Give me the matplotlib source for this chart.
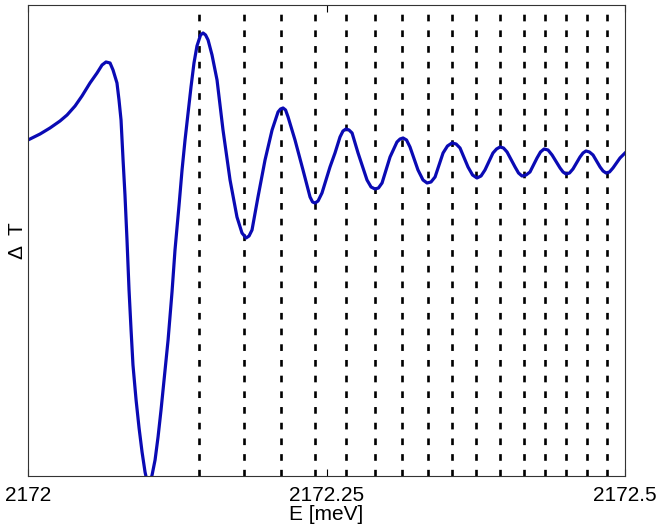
import matplotlib
matplotlib.use("Agg")
from matplotlib import pyplot as plt

plt.rcParams['font.family'] = ['Liberation Sans', 'DejaVu Sans']
plt.rcParams['lines.scale_dashes'] = False

# photon energy offset from 2172 meV
E_offset = [0.0000, 0.0101, 0.0184, 0.0268, 0.0327, 0.0394, 0.0452, 0.0519, 0.0578, 0.0620,
            0.0653, 0.0687, 0.0712, 0.0745, 0.0762, 0.0779, 0.0796, 0.0812, 0.0829, 0.0846,
            0.0863, 0.0879, 0.0905, 0.0930, 0.0955, 0.0980, 0.1009, 0.1039, 0.1064, 0.1089,
            0.1114, 0.1139, 0.1173, 0.1206, 0.1231, 0.1265, 0.1290, 0.1315, 0.1340, 0.1365,
            0.1390, 0.1415, 0.1445, 0.1466, 0.1487, 0.1508, 0.1541, 0.1583, 0.1633, 0.1692,
            0.1750, 0.1792, 0.1826, 0.1851, 0.1876, 0.1926, 0.1985, 0.2044, 0.2094, 0.2115,
            0.2136, 0.2157, 0.2178, 0.2236, 0.2303, 0.2362, 0.2383, 0.2404, 0.2429, 0.2462,
            0.2529, 0.2571, 0.2613, 0.2638, 0.2663, 0.2688, 0.2714, 0.2764, 0.2839, 0.2873,
            0.2906, 0.2935, 0.2965, 0.3032, 0.3090, 0.3116, 0.3141, 0.3170, 0.3199, 0.3266,
            0.3308, 0.3342, 0.3375, 0.3409, 0.3476, 0.3513, 0.3551, 0.3585, 0.3618, 0.3685,
            0.3723, 0.3760, 0.3794, 0.3827, 0.3894, 0.3924, 0.3953, 0.3982, 0.4012, 0.4079,
            0.4108, 0.4137, 0.4171, 0.4204, 0.4263, 0.4292, 0.4322, 0.4355, 0.4389, 0.4456,
            0.4481, 0.4506, 0.4535, 0.4564, 0.4623, 0.4648, 0.4673, 0.4702, 0.4732, 0.4791,
            0.4816, 0.4841, 0.4870, 0.4899, 0.4958, 0.5000]
# differential transmission, arbitrary units
dT = [3.36, 3.42, 3.48, 3.55, 3.61, 3.70, 3.80, 3.93, 4.03, 4.11,
      4.14, 4.13, 4.06, 3.93, 3.76, 3.56, 3.16, 2.81, 2.36, 1.86,
      1.46, 1.11, 0.76, 0.48, 0.24, 0.04, -0.12, 0.01, 0.16, 0.39,
      0.66, 0.96, 1.36, 1.84, 2.26, 2.71, 3.06, 3.36, 3.63, 3.89,
      4.13, 4.30, 4.41, 4.43, 4.41, 4.36, 4.21, 3.96, 3.46, 2.96,
      2.59, 2.43, 2.38, 2.40, 2.46, 2.79, 3.16, 3.46, 3.64, 3.67,
      3.68, 3.66, 3.59, 3.36, 3.06, 2.79, 2.74, 2.73, 2.75, 2.83,
      3.09, 3.23, 3.39, 3.45, 3.47, 3.46, 3.43, 3.23, 2.96, 2.89,
      2.87, 2.88, 2.93, 3.19, 3.34, 3.37, 3.38, 3.36, 3.29, 3.06,
      2.96, 2.93, 2.94, 2.99, 3.23, 3.30, 3.33, 3.32, 3.28, 3.09,
      3.01, 2.98, 3.00, 3.06, 3.23, 3.27, 3.29, 3.28, 3.24, 3.09,
      3.03, 3.00, 3.01, 3.04, 3.18, 3.24, 3.27, 3.26, 3.21, 3.08,
      3.04, 3.02, 3.03, 3.07, 3.19, 3.23, 3.25, 3.24, 3.21, 3.09,
      3.05, 3.03, 3.04, 3.08, 3.18, 3.23]

# positions of the dashed marker lines (offset from 2172 meV)
markers = [0.1431, 0.1812, 0.2117, 0.2401, 0.2664, 0.2902, 0.3129, 0.3353,
           0.3555, 0.3755, 0.3953, 0.4152, 0.4326, 0.4503, 0.4678, 0.4848]

E = [2172 + e for e in E_offset]

fig = plt.figure(figsize=(6.64, 5.31), dpi=100)
ax = fig.add_axes([0.0422, 0.1036, 0.8991, 0.887])

for m in markers:
    ax.axvline(2172 + m, color="k", lw=1.9, dashes=(4.8, 6.5))

ax.plot(E, dT, color="#0a0ab4", lw=2.3, solid_joinstyle="round")

ax.set_xlim(2172, 2172.5)
ax.set_ylim(0, 4.71)
ax.set_xticks([2172, 2172.25, 2172.5])
ax.set_xticklabels(["2172", "2172.25", "2172.5"])
ax.set_yticks([])
ax.tick_params(axis="x", direction="in", length=5, top=True, labelsize=15, pad=7)
for s in ax.spines.values():
    s.set_linewidth(0.8)
    s.set_color("#333333")

ax.set_xlabel("E [meV]", fontsize=15, labelpad=0)
ax.set_ylabel("\u0394  T", fontsize=15, labelpad=1)

fig.savefig("out.png", dpi=100)
